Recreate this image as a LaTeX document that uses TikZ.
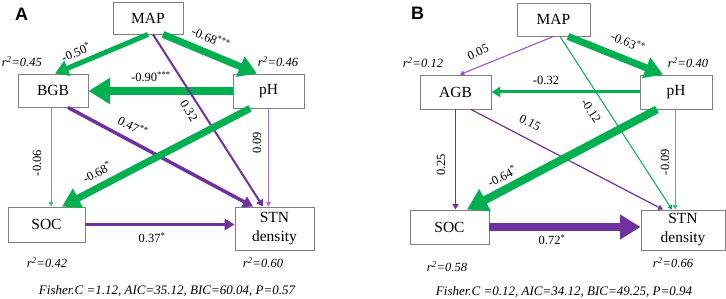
\documentclass[tikz,border=0pt]{standalone}
\usepackage{fontspec}
\setmainfont{Liberation Serif}
\setsansfont{Liberation Sans}
\newfontfamily\tnr{Liberation Serif}
\usetikzlibrary{arrows.meta,calc}
\definecolor{gr}{HTML}{00B050}
\definecolor{grl}{HTML}{2EC486}
\definecolor{pu}{HTML}{7030A0}
\definecolor{pul}{HTML}{A870DA}
\definecolor{pum}{HTML}{9448D0}
\definecolor{boxgray}{HTML}{7F7F7F}
\tikzset{
  box/.style={draw=boxgray, fill=white, line width=0.9pt, inner sep=0pt, align=center,
    font=\tnr\fontsize{15.5}{19}\selectfont},
  con/.style={-{Triangle[length=2pt 2.3, width=2pt 2.7]}},
  lab/.style={inner sep=0pt, font=\tnr\fontsize{12.5}{14}\selectfont},
  rr/.style={inner sep=0pt, font=\tnr\itshape\fontsize{12.5}{14}\selectfont},
  fish/.style={inner sep=0pt, font=\tnr\itshape\fontsize{13}{15}\selectfont},
  panel/.style={inner sep=0pt, font=\sffamily\bfseries\fontsize{18}{20}\selectfont},
}
\begin{document}
\begin{tikzpicture}[x=1pt,y=-1pt]
\useasboundingbox (0,0) rectangle (726,299);
% ---------- Panel A ----------
\node[panel] (pA) at (21.5,14) {A};
\node[box, minimum width=70, minimum height=32] (MAPa) at (148,18) {MAP};
\node[box, minimum width=70, minimum height=33] (BGB) at (53,90.5) {BGB};
\node[box, minimum width=71, minimum height=34] (pHa) at (268.5,91) {pH};
\node[box, minimum width=77, minimum height=35] (SOCa) at (46.5,224.5) {SOC};
\node[box, minimum width=79, minimum height=43] (STNa) at (274.5,228.5) {STN\\density};

\draw[con, gr, line width=5pt] (MAPa.south) -- ([xshift=2]BGB.north);
\draw[con, gr, line width=7pt] ([xshift=15]MAPa.south) -- ([xshift=-11.5]pHa.north);
\draw[con, gr, line width=8.5pt] (pHa.west) -- (pHa.west -| BGB.east);
\draw[con, pu, line width=2pt] ([xshift=5]MAPa.south) -- ([xshift=-11.5]STNa.north);
\draw[con, pu, line width=3.5pt] ([xshift=15]BGB.south) -- ([xshift=-21.5]STNa.north);
\draw[con, gr, line width=7pt] ([xshift=-18.5]pHa.south) -- ([xshift=15.5]SOCa.north);
\draw[con, grl, line width=1pt] ([xshift=-2]BGB.south) -- ([xshift=-2]BGB.south |- SOCa.north);
\draw[con, pul, line width=1pt] (pHa.south) -- (pHa.south |- STNa.north);
\draw[con, pu, line width=3.5pt] (SOCa.east) -- (SOCa.east -| STNa.west);

\node[lab, rotate=23] (la1) at (76,52) {-0.50\textsuperscript{*}};
\node[lab, rotate=-23] (la2) at (211,38) {-0.68\textsuperscript{***}};
\node[lab] (la3) at (151,77) {-0.90\textsuperscript{***}};
\node[lab, rotate=-57.5] (la4) at (189,111) {0.32};
\node[lab, rotate=-28] (la5) at (133,126) {0.47\textsuperscript{**}};
\node[lab, rotate=90] (la6) at (257,143) {0.09};
\node[lab, rotate=90] (la7) at (37,163) {-0.06};
\node[lab, rotate=27.5] (la8) at (97,172) {-0.68\textsuperscript{*}};
\node[lab] (la9) at (152,238) {0.37\textsuperscript{*}};

\node[rr, anchor=east] (ra1) at (42,62) {r\textsuperscript{2}=0.45};
\node[rr] (ra2) at (278,62) {r\textsuperscript{2}=0.46};
\node[rr] (ra3) at (47,263) {r\textsuperscript{2}=0.42};
\node[rr] (ra4) at (263,263) {r\textsuperscript{2}=0.60};
\node[fish] (fa) at (167,291) {Fisher.C =1.12, AIC=35.12, BIC=60.04, P=0.57};

% ---------- Panel B ----------
\node[panel] (pB) at (417.5,13.5) {B};
\node[box, minimum width=73, minimum height=33] (MAPb) at (553.5,19.5) {MAP};
\node[box, minimum width=71, minimum height=34] (AGB) at (455.5,92) {AGB};
\node[box, minimum width=72, minimum height=34] (pHb) at (676,92) {pH};
\node[box, minimum width=79, minimum height=34] (SOCb) at (449.5,227) {SOC};
\node[box, minimum width=84, minimum height=40] (STNb) at (683,230) {STN\\density};

\draw[con, pum, line width=1pt] (MAPb.south) -- ([xshift=4.5]AGB.north);
\draw[con, gr, line width=7pt] ([xshift=14.5]MAPb.south) -- ([xshift=-13]pHb.north);
\draw[con, gr, line width=3pt] (pHb.west) -- (pHb.west -| AGB.east);
\draw[con, gr, line width=1pt] ([xshift=6.5]MAPb.south) -- ([xshift=-11]STNb.north);
\draw[con, pu, line width=1.2pt] ([xshift=15.5]AGB.south) -- ([xshift=-20]STNb.north);
\draw[con, gr, line width=8pt] ([xshift=-19]pHb.south) -- ([xshift=17.5]SOCb.north);
\draw[con, pu, line width=1.5pt] (AGB.south) -- (AGB.south |- SOCb.north);
\draw[con, grl, line width=1pt] ([xshift=-1]pHb.south) -- ([xshift=-1]pHb.south |- STNb.north);
\draw[con, pu, line width=8pt] (SOCb.east) -- (SOCb.east -| STNb.west);

\node[lab, rotate=23] (lb1) at (478,52) {0.05};
\node[lab, rotate=-23] (lb2) at (628,42) {-0.63\textsuperscript{**}};
\node[lab] (lb3) at (546,80) {-0.32};
\node[lab, rotate=-57] (lb4) at (591,111) {-0.12};
\node[lab, rotate=-27] (lb5) at (530,123) {0.15};
\node[lab, rotate=90] (lb6) at (441,165) {0.25};
\node[lab, rotate=26.6] (lb7) at (502,176) {-0.64\textsuperscript{*}};
\node[lab, rotate=90] (lb8) at (665,162) {-0.09};
\node[lab] (lb9) at (552,240) {0.72\textsuperscript{*}};

\node[rr] (rb1) at (423,63) {r\textsuperscript{2}=0.12};
\node[rr] (rb2) at (688,63) {r\textsuperscript{2}=0.40};
\node[rr] (rb3) at (447,267) {r\textsuperscript{2}=0.58};
\node[rr] (rb4) at (673,263) {r\textsuperscript{2}=0.66};
\node[fish] (fb) at (564,292) {Fisher.C =0.12, AIC=34.12, BIC=49.25, P=0.94};
\end{tikzpicture}
\end{document}
